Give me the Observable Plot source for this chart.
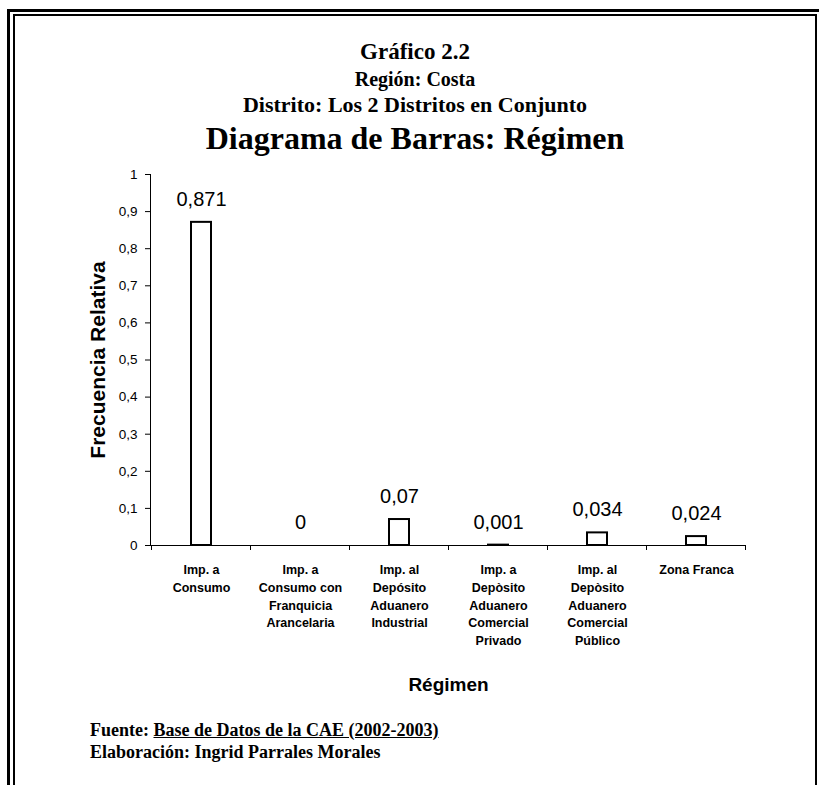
<!DOCTYPE html>
<html>
<head>
<meta charset="utf-8">
<script src="https://cdn.jsdelivr.net/npm/d3@7"></script>
<script src="https://cdn.jsdelivr.net/npm/@observablehq/plot@0.6"></script>
<style>
  html, body { margin: 0; padding: 0; background: #fff; overflow: hidden; }
  body { width: 819px; height: 785px; position: relative; }
  .outer { position: absolute; left: 7px; top: 9px; width: 900px; height: 900px; border: 3px solid #000; z-index: 2; pointer-events: none; }
  .inner { position: absolute; left: 13px; top: 14px; width: 800px; height: 900px; border: 2px solid #000; z-index: 2; pointer-events: none; }
  .t { position: absolute; left: 15px; width: 800px; text-align: center; font-family: "Liberation Serif", "Times New Roman", serif; font-weight: bold; color: #000; white-space: nowrap; line-height: 1; z-index: 1; }
  .f { position: absolute; left: 90px; font-family: "Liberation Serif", "Times New Roman", serif; font-weight: bold; font-size: 18px; color: #000; white-space: nowrap; line-height: 1; z-index: 1; }
  #chart { position: absolute; left: 0; top: 160px; z-index: 0; }
</style>
</head>
<body>
<div id="chart"></div>
<div class="outer"></div>
<div class="inner"></div>
<div class="t" style="top:40px;font-size:23px;">Gráfico 2.2</div>
<div class="t" style="top:69px;font-size:20px;">Región: Costa</div>
<div class="t" style="top:94px;font-size:22px;">Distrito: Los 2 Distritos en Conjunto</div>
<div class="t" style="top:122px;font-size:32px;">Diagrama de Barras: Régimen</div>
<div class="f" style="top:721px;">Fuente: <u>Base de Datos de la CAE (2002-2003)</u></div>
<div class="f" style="top:743px;">Elaboración: Ingrid Parrales Morales</div>
<script>
const categories = [
  "Imp. a\nConsumo",
  "Imp. a\nConsumo con\nFranquicia\nArancelaria",
  "Imp. al\nDepósito\nAduanero\nIndustrial",
  "Imp. a\nDepòsito\nAduanero\nComercial\nPrivado",
  "Imp. al\nDepòsito\nAduanero\nComercial\nPúblico",
  "Zona Franca"
];
const values = [0.871, 0, 0.07, 0.001, 0.034, 0.024];
const valueLabels = ["0,871", "0", "0,07", "0,001", "0,034", "0,024"];
const yTicks = [0, 0.1, 0.2, 0.3, 0.4, 0.5, 0.6, 0.7, 0.8, 0.9, 1];
const yTickLabels = ["0", "0,1", "0,2", "0,3", "0,4", "0,5", "0,6", "0,7", "0,8", "0,9", "1"];
const yLabel = "Frecuencia Relativa";
const xLabel = "Régimen";

const data = categories.map((c, i) => ({cat: c, value: values[i], label: valueLabels[i]}));

const W = 819, H = 540, mL = 150, mR = 73, mT = 14, mB = 155;

const chart = Plot.plot({
  width: W, height: H,
  marginLeft: mL, marginRight: mR, marginTop: mT, marginBottom: mB,
  style: {fontFamily: "'Liberation Sans', Arial, sans-serif", fontSize: "13.5px", color: "#000", background: "transparent", overflow: "visible"},
  x: {domain: categories, paddingInner: 0.8, paddingOuter: 0.4, axis: null},
  y: {domain: [0, 1], ticks: yTicks, tickFormat: d => yTickLabels[yTicks.indexOf(d)] ?? "", tickSize: 5, tickPadding: 8, line: true, label: null},
  marks: [
    Plot.barY(data, {x: "cat", y: "value", fill: "#fff", stroke: "#000", strokeWidth: 2}),
    Plot.ruleY([0], {stroke: "#000", strokeWidth: 1}),
    Plot.text(data, {x: "cat", y: "value", text: "label", dy: -23, fontSize: 20, fill: "#000"}),
    Plot.text(data, {x: "cat", text: "cat", frameAnchor: "bottom", lineAnchor: "top", dy: 16, lineHeight: 1.42, fontSize: 12.5, fontWeight: "bold", fill: "#000"}),
    Plot.text([xLabel], {text: d => d, frameAnchor: "bottom", dy: 145, fontSize: 19, fontWeight: "bold", fill: "#000"}),
    Plot.text([yLabel], {text: d => d, frameAnchor: "left", textAnchor: "middle", rotate: -90, dx: -52, fontSize: 21, fontWeight: "bold", fill: "#000"})
  ]
});
document.getElementById("chart").appendChild(chart);

// category boundary tick marks on the x axis, from the plot's own band scale
const xs = chart.scale("x");
const ys = chart.scale("y");
const step = xs.step;
const gap = (step - xs.bandwidth) / 2;
const y0 = ys.apply(0);
const bounds = categories.map(c => xs.apply(c) - gap);
bounds.push(xs.apply(categories[categories.length - 1]) + xs.bandwidth + gap);
d3.select(chart).append("g")
  .attr("stroke", "#000")
  .selectAll("line")
  .data(bounds)
  .join("line")
  .attr("x1", d => d).attr("x2", d => d)
  .attr("y1", y0).attr("y2", y0 + 5);
</script>
</body>
</html>
